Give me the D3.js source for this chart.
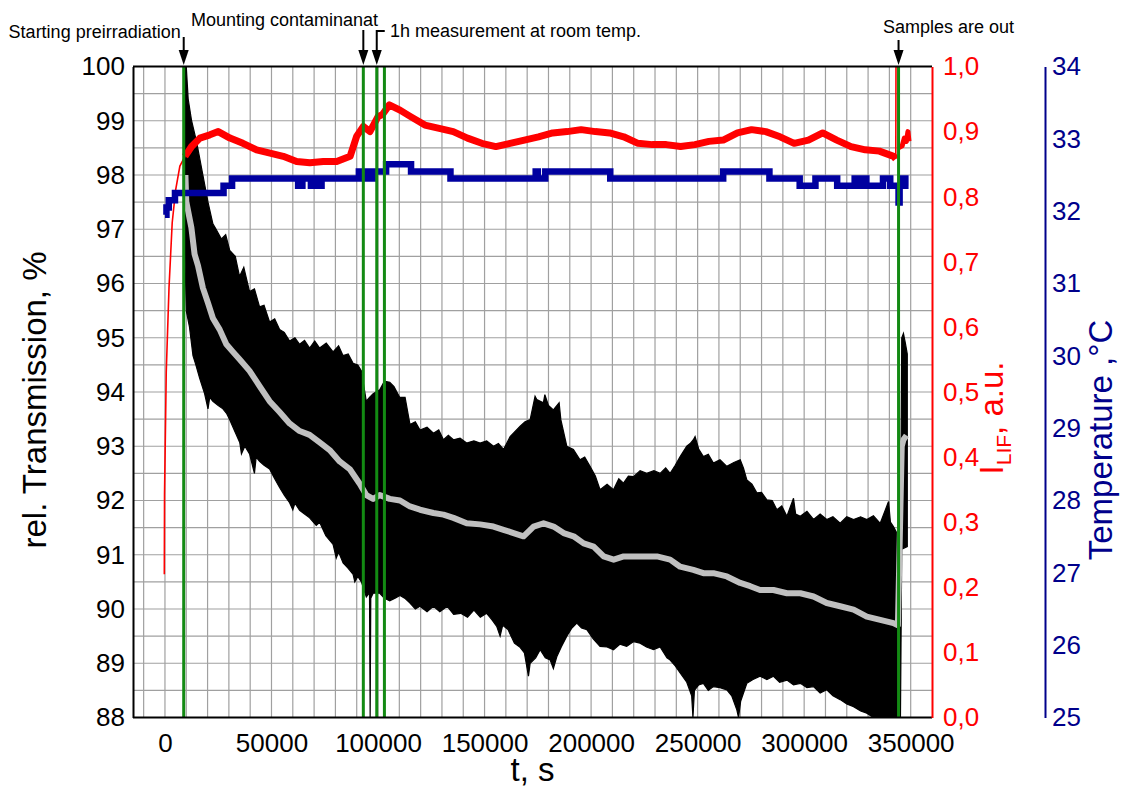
<!DOCTYPE html>
<html>
<head>
<meta charset="utf-8">
<script src="https://cdn.jsdelivr.net/npm/d3@7"></script>
<style>
  html, body { margin: 0; padding: 0; background: #fff; }
  svg text { font-family: "Liberation Sans", Arial, Helvetica, sans-serif; }
</style>
</head>
<body>
<svg id="chart" width="1121" height="789"></svg>
<script>
// ---- Transmission signal: upper / lower envelope of the raw trace [t (s), %]
const transUpper = [
  [9100, 99.0], [9400, 100.0], [10000, 100.0], [10900, 99.4], [12500, 99.0], [14900, 98.6],
  [17800, 98.0], [20200, 97.5], [22500, 97.1], [24000, 97.0], [26500, 96.82], [28500, 96.9],
  [30400, 96.61], [33000, 96.5], [35000, 96.13], [37000, 96.3], [39700, 95.85], [42000, 95.9],
  [44400, 95.57], [46500, 95.6], [49100, 95.29], [51500, 95.35], [53800, 95.15], [56000, 95.1],
  [58500, 94.94], [61000, 95.0], [63200, 94.88], [65500, 94.95], [67900, 94.81], [70300, 94.94],
  [72600, 94.81], [75700, 94.9], [78900, 94.74], [81500, 94.85], [83600, 94.67], [86000, 94.7],
  [88300, 94.53], [90500, 94.5], [92200, 94.39], [94500, 93.83], [96000, 93.9], [97700, 93.97],
  [100800, 94.04], [103000, 94.2], [105500, 94.18], [107500, 94.1], [110200, 93.9], [112700, 93.9],
  [115000, 93.4], [117500, 93.45], [119700, 93.3], [123000, 93.35], [126000, 93.24], [128500, 93.3],
  [130700, 93.12], [133000, 93.2], [135400, 93.12], [138500, 93.15], [141600, 93.06], [145000, 93.1],
  [147900, 93.06], [151000, 93.1], [154200, 93.0], [156500, 93.05], [158900, 92.94], [162000, 93.18],
  [166700, 93.37], [169000, 93.45], [171400, 93.49], [173700, 93.92], [174500, 93.86], [177600, 93.8],
  [178300, 93.95], [180000, 93.75], [182300, 93.67], [185000, 93.8], [185800, 93.49], [188600, 93.0],
  [191700, 92.94], [194800, 92.75], [197000, 92.8], [199500, 92.63], [202000, 92.45], [204200, 92.2],
  [207500, 92.3], [210500, 92.2], [213000, 92.4], [215200, 92.32], [217500, 92.45], [219900, 92.44],
  [223000, 92.55], [226100, 92.5], [229500, 92.55], [232400, 92.5], [235000, 92.6], [237100, 92.5],
  [239500, 92.65], [241800, 92.81], [244900, 93.0], [246500, 93.05], [248000, 93.12], [248800, 93.18],
  [250500, 92.95], [252700, 92.81], [255000, 92.85], [257400, 92.69], [260500, 92.75], [263700, 92.63],
  [267000, 92.7], [270000, 92.75], [271500, 92.6], [273100, 92.38], [275500, 92.3], [277800, 92.14],
  [280000, 92.15], [282500, 92.01], [285000, 92.0], [287200, 91.83], [289500, 91.9], [291900, 91.71],
  [295000, 92.04], [296000, 91.75], [298200, 91.71], [301300, 91.8], [304400, 91.65], [307500, 91.75],
  [310600, 91.65], [313500, 91.7], [316900, 91.58], [320000, 91.7], [323200, 91.65], [326500, 91.7],
  [329400, 91.65], [332500, 91.72], [335700, 91.58], [339600, 91.98], [340500, 91.6], [341900, 91.52],
  [343500, 91.4], [345200, 91.2], [345800, 95.0], [346600, 95.08], [347500, 94.9], [348400, 94.7]
];
const transLower = [
  [9100, 98.0], [9400, 96.5], [10000, 95.5], [11500, 95.2], [13150, 94.67], [14500, 94.5],
  [16300, 94.25], [18600, 93.97], [20200, 93.69], [21000, 93.9], [22500, 93.83], [25000, 93.75],
  [27200, 93.69], [29000, 93.6], [30400, 93.49], [32500, 93.3], [35100, 93.07], [35900, 92.86],
  [37500, 93.0], [39700, 92.86], [42000, 92.5], [42800, 92.8], [44400, 92.72], [46500, 92.65],
  [49100, 92.58], [51500, 92.4], [53800, 92.24], [56000, 92.1], [58500, 91.96], [60000, 91.83],
  [61000, 91.95], [63200, 91.82], [65500, 91.75], [67900, 91.68], [71000, 91.54], [72600, 91.6],
  [75500, 91.35], [78900, 91.19], [80400, 90.94], [81500, 91.05], [83600, 90.85], [86000, 90.75],
  [88300, 90.64], [89100, 90.5], [90500, 90.6], [92200, 90.5], [94500, 90.22], [96000, 90.3],
  [96300, 88.0], [96600, 90.2], [97700, 90.29], [100800, 90.29], [103000, 90.2], [105500, 90.15],
  [108000, 90.2], [110300, 90.25], [112500, 90.2], [115000, 90.11], [117500, 90.0], [119700, 90.05],
  [123000, 89.95], [126000, 90.05], [129000, 89.95], [132500, 90.05], [135500, 89.9], [138800, 89.92],
  [142000, 89.85], [145000, 89.98], [148000, 89.85], [151000, 89.92], [153500, 89.8], [155700, 89.68],
  [157300, 89.5], [158500, 89.7], [161000, 89.62], [164000, 89.37], [166500, 89.3], [168700, 89.19],
  [170600, 88.76], [171400, 89.0], [174000, 89.1], [176100, 89.25], [178500, 89.1], [180800, 89.06],
  [182300, 88.9], [183900, 89.12], [186000, 89.3], [188600, 89.5], [191000, 89.65], [193300, 89.74],
  [195500, 89.65], [198000, 89.62], [201000, 89.45], [204200, 89.31], [207500, 89.3], [210500, 89.25],
  [213500, 89.35], [216700, 89.31], [220000, 89.4], [223000, 89.37], [226000, 89.3], [229300, 89.25],
  [232400, 89.3], [235600, 89.1], [237100, 89.06], [239500, 88.95], [241800, 88.82], [244900, 88.65],
  [247200, 88.4], [247800, 88.0], [248500, 88.5], [250500, 88.6], [252700, 88.63], [255000, 88.5],
  [257400, 88.57], [260500, 88.55], [263700, 88.51], [266000, 88.4], [268400, 88.14], [269200, 88.0],
  [270200, 88.3], [273100, 88.63], [276000, 88.7], [279300, 88.76], [282500, 88.7], [285600, 88.76],
  [288500, 88.65], [291900, 88.69], [295000, 88.6], [298200, 88.63], [301300, 88.55], [304400, 88.57],
  [307500, 88.45], [310600, 88.51], [313500, 88.4], [316900, 88.33], [320000, 88.25], [323200, 88.2],
  [326500, 88.12], [329400, 88.08], [332500, 88.0], [345200, 88.0], [345800, 91.1], [348400, 91.15]
];

// ---- Smoothed transmission [t (s), %]
const transMean = [
  [9600, 98.0], [10000, 97.51], [12400, 97.03], [13900, 96.54], [15500, 96.33], [17800, 95.92],
  [20200, 95.64], [22500, 95.36], [25700, 95.15], [28800, 94.88], [31900, 94.74], [35100, 94.6],
  [39700, 94.39], [44400, 94.11], [49100, 93.83], [53800, 93.63], [58500, 93.42], [63200, 93.28],
  [67900, 93.21], [72600, 93.07], [77300, 92.93], [82000, 92.72], [86700, 92.58], [91400, 92.31],
  [94500, 92.1], [97700, 92.03], [100800, 92.1], [105500, 92.03], [110300, 92.0], [115000, 91.89],
  [119700, 91.83], [126000, 91.77], [130700, 91.74], [135400, 91.68], [141600, 91.58], [147900, 91.56],
  [154200, 91.52], [158900, 91.46], [163600, 91.4], [168300, 91.34], [173000, 91.52], [177700, 91.58],
  [182400, 91.52], [187100, 91.4], [191800, 91.34], [196500, 91.21], [201200, 91.15], [205900, 90.97],
  [210600, 90.91], [215300, 90.97], [220000, 90.97], [226200, 90.97], [230900, 90.97], [237100, 90.91],
  [241800, 90.78], [248000, 90.72], [252700, 90.66], [257400, 90.66], [263700, 90.6], [270000, 90.48],
  [274700, 90.42], [279300, 90.35], [285600, 90.35], [291900, 90.29], [298200, 90.29], [304400, 90.23],
  [310600, 90.11], [316900, 90.05], [323200, 89.99], [329400, 89.86], [335700, 89.8], [341900, 89.74],
  [344000, 89.7], [345800, 93.0], [346600, 93.12], [348000, 93.2]
];

// ---- LIF intensity [t (s), a.u.]
const lif = [
  [-300, 0.22], [-200, 0.342], [600, 0.53], [1900, 0.66], [3400, 0.76], [5000, 0.81], [7000, 0.847],
  [9400, 0.862], [12500, 0.877], [16400, 0.89], [21100, 0.895], [25000, 0.90], [30500, 0.89],
  [36600, 0.882], [43000, 0.872], [49300, 0.867], [55500, 0.862], [61800, 0.854], [68000, 0.852],
  [74300, 0.854], [80600, 0.854], [86900, 0.862], [90000, 0.893], [93100, 0.908], [96200, 0.90],
  [100000, 0.923], [102000, 0.926], [105300, 0.941], [110300, 0.933], [115300, 0.923], [122000, 0.91],
  [128700, 0.905], [135300, 0.90], [142000, 0.89], [148700, 0.882], [155300, 0.877], [162000, 0.882],
  [168700, 0.887], [175300, 0.892], [182000, 0.898], [188700, 0.90], [195300, 0.903], [202000, 0.90],
  [208700, 0.898], [215300, 0.892], [222000, 0.882], [228700, 0.88], [235300, 0.88], [242000, 0.877],
  [248700, 0.88], [255300, 0.885], [262000, 0.887], [268700, 0.898], [275300, 0.903], [282000, 0.90],
  [288700, 0.892], [295300, 0.882], [302000, 0.887], [308700, 0.898], [315300, 0.887], [322000, 0.877],
  [328700, 0.872], [335300, 0.87], [342000, 0.862], [343000, 0.858], [343100, 1.0], [344100, 1.0],
  [344300, 0.875], [346000, 0.878], [347000, 0.89], [348000, 0.885], [348700, 0.9], [349200, 0.885]
];

// ---- Sample temperature, stepwise [t (s), °C]
const temperature = [
  [0, 31.95], [700, 32.05], [1800, 32.15], [4700, 32.25], [27500, 32.35], [31500, 32.45],
  [62500, 32.35], [64500, 32.45], [68500, 32.35], [70000, 32.45], [71500, 32.35], [73500, 32.45],
  [91000, 32.55], [94500, 32.45], [95500, 32.55], [97000, 32.45], [98000, 32.55], [103800, 32.65],
  [115500, 32.55], [134000, 32.45], [174000, 32.55], [175000, 32.45], [178500, 32.55], [209000, 32.45],
  [262000, 32.55], [283700, 32.45], [297900, 32.35], [305300, 32.45], [315500, 32.35], [323700, 32.45],
  [325300, 32.35], [328200, 32.45], [329200, 32.35], [337000, 32.45], [340400, 32.35], [344300, 32.12],
  [344800, 32.35], [346500, 32.45], [347500, 32.35], [349000, 32.35]
];

// ---- Experiment events (s)
const eventTimes = [8800, 93100, 99400, 103000, 344300];
const eventLabels = ["Starting preirradiation", "Mounting contaminanat", "1h measurement at room temp.", "Samples are out"];

// ---- Axis ticks
const xTicks = [0, 50000, 100000, 150000, 200000, 250000, 300000, 350000];
const transTicks = [88, 89, 90, 91, 92, 93, 94, 95, 96, 97, 98, 99, 100];
const lifTicks = [0, 0.1, 0.2, 0.3, 0.4, 0.5, 0.6, 0.7, 0.8, 0.9, 1.0];
const tempTicks = [25, 26, 27, 28, 29, 30, 31, 32, 33, 34];

// ------------------------------------------------------------------
const svg = d3.select("#chart");
const pL = 133, pR = 932, pT = 66.5, pB = 717.5;

const x = d3.scaleLinear().domain([-15000, 360000]).range([pL, pR]);
const yT = d3.scaleLinear().domain([88, 100]).range([pB, pT]);
const yR = d3.scaleLinear().domain([0, 1]).range([pB, pT]);
const yB = d3.scaleLinear().domain([25, 34]).range([pB, pT]);

const RED = "#ff0000", NAVY = "#00008b", BLUE = "#0000a0", GREEN = "#138a13";
const TICK_FONT = 26, TITLE_FONT = 33;

svg.append("rect").attr("width", 1121).attr("height", 789).attr("fill", "#fff");

svg.append("defs").append("clipPath").attr("id", "plotClip")
  .append("rect").attr("x", pL).attr("y", pT).attr("width", pR - pL).attr("height", pB - pT);

// grid
const grid = svg.append("g").attr("stroke", "#a0a0a0").attr("stroke-width", 1.2);
grid.selectAll("line.v").data(d3.range(-10000, 360000, 10000)).join("line").attr("class", "v")
  .attr("x1", d => x(d)).attr("x2", d => x(d)).attr("y1", pT).attr("y2", pB);
grid.selectAll("line.h").data(d3.range(88.5, 100, 0.5)).join("line").attr("class", "h")
  .attr("x1", pL).attr("x2", pR).attr("y1", d => yT(d)).attr("y2", d => yT(d));

const plot = svg.append("g").attr("clip-path", "url(#plotClip)");

// raw transmission band
const bandLine = d3.line().x(d => x(d[0])).y(d => yT(d[1]));
const bandPts = transUpper.concat(transLower.slice().reverse());
plot.append("path").attr("d", bandLine(bandPts) + "Z")
  .attr("fill", "#000").attr("stroke", "#000").attr("stroke-width", 1.2);

// smoothed transmission
plot.append("path").datum(transMean)
  .attr("d", d3.line().x(d => x(d[0])).y(d => yT(d[1])))
  .attr("fill", "none").attr("stroke", "#c0c0c0").attr("stroke-width", 6).attr("stroke-linejoin", "round");

// LIF signal
const lifLine = d3.line().x(d => x(d[0])).y(d => yR(d[1]));
const lifRamp = lif.filter(d => d[0] <= 9400);
const lifMain = lif.filter(d => d[0] >= 9400 && d[0] <= 343000);
const lifSpike = lif.filter(d => d[0] >= 343000 && d[0] <= 344300);
const lifTail = lif.filter(d => d[0] >= 344300);
plot.append("path").datum(lifRamp).attr("d", lifLine)
  .attr("fill", "none").attr("stroke", RED).attr("stroke-width", 1.6);
plot.append("path").datum(lifMain).attr("d", lifLine)
  .attr("fill", "none").attr("stroke", RED).attr("stroke-width", 7).attr("stroke-linejoin", "round");
plot.append("path").datum(lifSpike).attr("d", lifLine)
  .attr("fill", "none").attr("stroke", RED).attr("stroke-width", 1.6);
plot.append("path").datum(lifTail).attr("d", lifLine)
  .attr("fill", "none").attr("stroke", RED).attr("stroke-width", 5).attr("stroke-linejoin", "round");

// temperature
plot.append("path").datum(temperature)
  .attr("d", d3.line().curve(d3.curveStepAfter).x(d => x(d[0])).y(d => yB(d[1])))
  .attr("fill", "none").attr("stroke", BLUE).attr("stroke-width", 6.5);

// event markers
plot.selectAll("line.ev").data(eventTimes).join("line").attr("class", "ev")
  .attr("x1", d => x(d)).attr("x2", d => x(d)).attr("y1", pT).attr("y2", pB)
  .attr("stroke", GREEN).attr("stroke-width", 3);

// frame
svg.append("line").attr("x1", pL).attr("x2", pR).attr("y1", pT).attr("y2", pT)
  .attr("stroke", "#000").attr("stroke-width", 2);
svg.append("line").attr("x1", pL).attr("x2", pR).attr("y1", pB).attr("y2", pB)
  .attr("stroke", "#000").attr("stroke-width", 2);

// axes
function styleAxis(g, color) {
  g.select(".domain").attr("stroke", color).attr("stroke-width", 2);
  g.selectAll(".tick text").attr("fill", color).style("font-size", TICK_FONT + "px")
    .style("font-family", '"Liberation Sans", Arial, sans-serif');
  g.selectAll(".tick line").remove();
}

const gx = svg.append("g").attr("transform", `translate(0,${pB})`)
  .call(d3.axisBottom(x).tickValues(xTicks).tickSize(0).tickSizeOuter(0).tickPadding(16).tickFormat(d3.format("d")));
styleAxis(gx, "#000");
gx.select(".domain").remove();

const gl = svg.append("g").attr("transform", `translate(${pL},0)`)
  .call(d3.axisLeft(yT).tickValues(transTicks).tickSize(0).tickSizeOuter(0).tickPadding(8).tickFormat(d3.format("d")));
styleAxis(gl, "#000");

const gr = svg.append("g").attr("transform", `translate(${pR},0)`)
  .call(d3.axisRight(yR).tickValues(lifTicks).tickSize(0).tickSizeOuter(0).tickPadding(11)
    .tickFormat(d => d3.format(".1f")(d).replace(".", ",")));
styleAxis(gr, RED);

const gb = svg.append("g").attr("transform", "translate(1045,0)")
  .call(d3.axisRight(yB).tickValues(tempTicks).tickSize(0).tickSizeOuter(0).tickPadding(7).tickFormat(d3.format("d")));
styleAxis(gb, NAVY);

// axis titles
svg.append("text").attr("x", (pL + pR) / 2).attr("y", 781).attr("text-anchor", "middle")
  .style("font-size", TITLE_FONT + "px").attr("fill", "#000").text("t, s");

svg.append("text").attr("transform", `translate(46,${(pT + pB) / 2 + 8}) rotate(-90)`)
  .attr("text-anchor", "middle").style("font-size", TITLE_FONT + "px").attr("fill", "#000")
  .text("rel. Transmission, %");

const lifTitle = svg.append("text").attr("transform", "translate(1003,418) rotate(-90)")
  .attr("text-anchor", "middle").style("font-size", TITLE_FONT + "px").attr("fill", RED);
lifTitle.append("tspan").text("I");
lifTitle.append("tspan").attr("dy", 8).style("font-size", "21px").text("LIF");
lifTitle.append("tspan").attr("dy", -8).text(", a.u.");

svg.append("text").attr("transform", "translate(1112,440) rotate(-90)")
  .attr("text-anchor", "middle").style("font-size", TITLE_FONT + "px").attr("fill", NAVY)
  .text("Temperature ,°C");

// event annotations
const ann = svg.append("g").attr("fill", "#000").style("font-size", "18px");
function arrow(xp, yTop) {
  ann.append("line").attr("x1", xp).attr("x2", xp).attr("y1", yTop).attr("y2", 52)
    .attr("stroke", "#000").attr("stroke-width", 2);
  ann.append("path").attr("d", `M${xp - 5},50 L${xp + 5},50 L${xp},65 Z`).attr("fill", "#000");
}
const ex = eventTimes.map(x);
ann.append("text").attr("x", ex[0] - 3).attr("y", 38).attr("text-anchor", "end").text(eventLabels[0]);
arrow(ex[0], 37);
ann.append("text").attr("x", 191).attr("y", 26).text(eventLabels[1]);
arrow(ex[1], 30);
ann.append("path").attr("d", `M${ex[2]},31 L${ex[2] + 8},31`).attr("stroke", "#000").attr("stroke-width", 2);
arrow(ex[2], 30);
ann.append("text").attr("x", 390).attr("y", 37).text(eventLabels[2]);
ann.append("text").attr("x", ex[4] + 50).attr("y", 33).attr("text-anchor", "middle").text(eventLabels[3]);
arrow(ex[4], 40);
</script>
</body>
</html>
